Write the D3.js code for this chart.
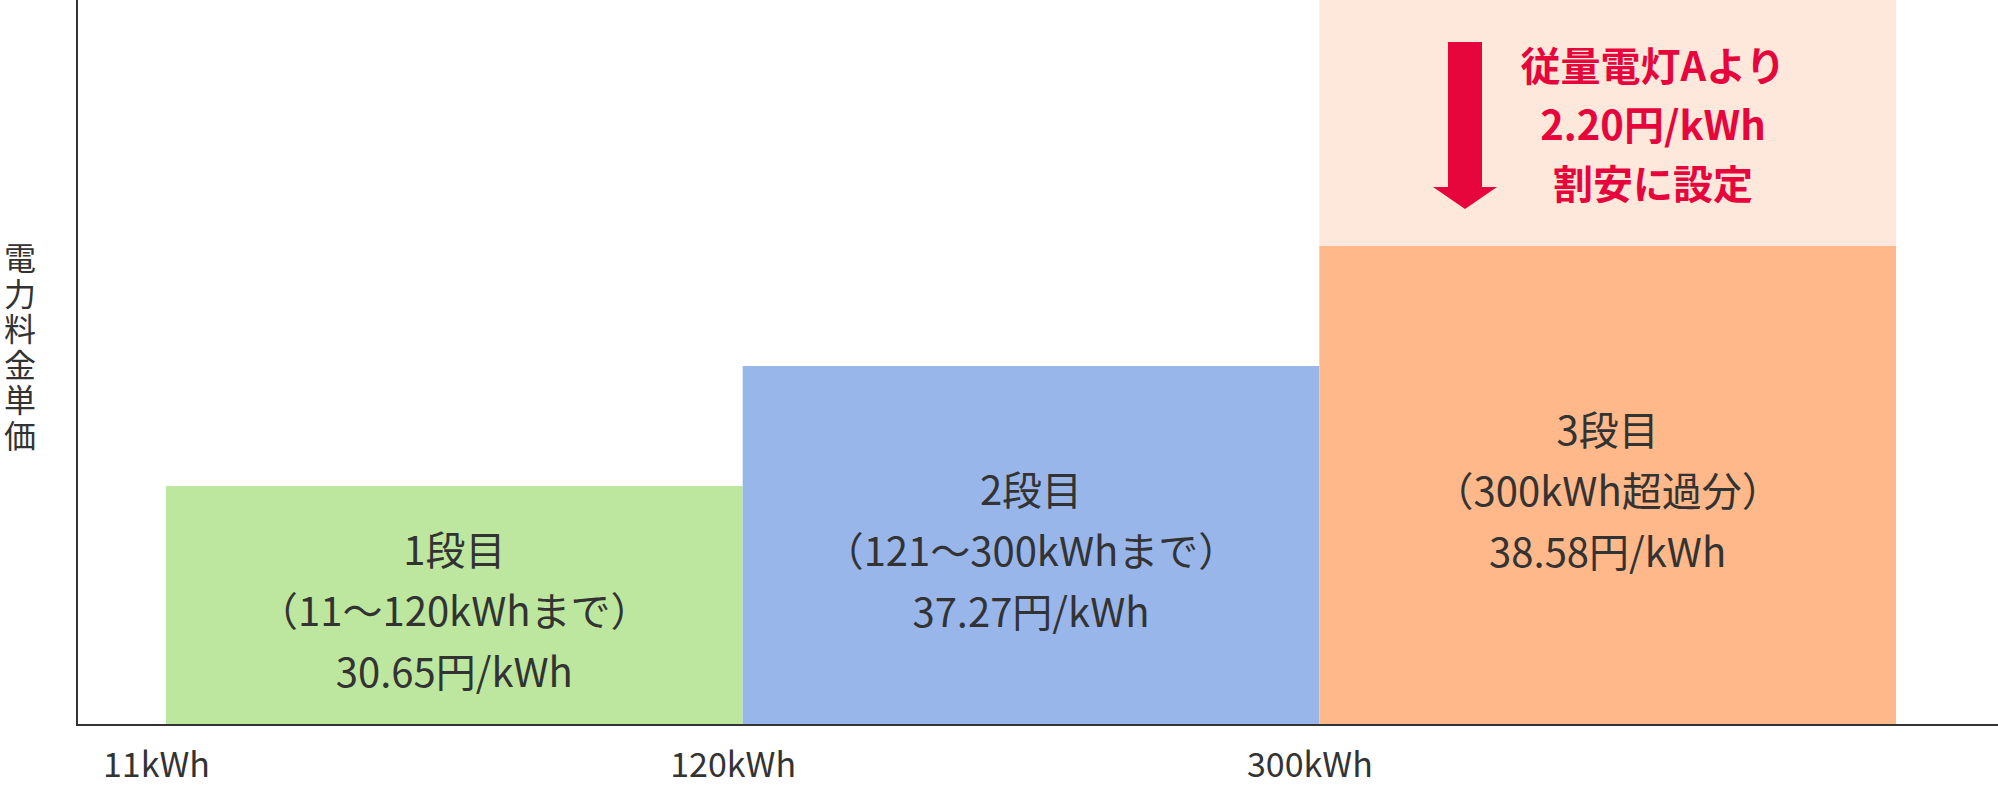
<!DOCTYPE html>
<html><head><meta charset="utf-8">
<script src="https://cdn.jsdelivr.net/npm/d3@7"></script>
<style>
html,body{margin:0;padding:0;background:#fff;}
svg{display:block;font-family:"Noto Sans CJK JP","Noto Sans",sans-serif;}
</style></head>
<body>
<svg id="chart" width="1998" height="786"></svg>
<script>
// ---- data ----
const tiers = ["1段目", "2段目", "3段目"];
const tierRanges = ["（11～120kWhまで）", "（121～300kWhまで）", "（300kWh超過分）"];
const prices = [30.65, 37.27, 38.58];
const stepLevels = [2, 3, 4];            // schematic bar heights (chart has no value axis)
const tickLabels = ["11kWh", "120kWh", "300kWh"];
const tierColors = ["#bde79f", "#99b6eb", "#ffb88a"];
const yAxisTitle = "電力料金単価";
const noteLines = ["従量電灯Aより", "2.20円/kWh", "割安に設定"];

// ---- layout ----
const W = 1998, H = 786;
const axisX = 77, axisY = 725;
const svg = d3.select("#chart");

const x = d3.scaleLinear().domain([0, tiers.length]).range([166, 1896]);
const y = d3.scaleLinear().domain([0, 6.05]).range([726, 0]);

const data = tiers.map((t, i) => ({
  tier: t, range: tierRanges[i], price: prices[i], level: stepLevels[i], color: tierColors[i], i
}));

// annotation background box above last tier
const last = data[data.length - 1];
svg.append("rect")
  .attr("x", x(last.i)).attr("width", x(last.i + 1) - x(last.i))
  .attr("y", y(y.domain()[1])).attr("height", y(last.level) - y(y.domain()[1]))
  .attr("fill", "#fee8dc");

// bars
svg.selectAll("rect.bar").data(data).join("rect")
  .attr("class", "bar")
  .attr("x", d => x(d.i)).attr("width", d => x(d.i + 1) - x(d.i))
  .attr("y", d => y(d.level)).attr("height", d => y(0) - y(d.level))
  .attr("fill", d => d.color);

// bar labels
const lh = 61;
const lab = svg.selectAll("g.lab").data(data).join("g").attr("class", "lab")
  .attr("transform", d => `translate(${(x(d.i) + x(d.i + 1)) / 2},${(y(d.level) + y(0)) / 2 + 3})`);
lab.each(function(d) {
  const g = d3.select(this);
  const lines = [d.tier, d.range, d3.format(".2f")(d.price) + "円/kWh"];
  lines.forEach((s, k) => {
    g.append("text").attr("y", (k - 1) * lh)
      .attr("text-anchor", "middle").attr("dominant-baseline", "central")
      .attr("font-size", 40).attr("fill", "#333").text(s);
  });
});

// axes
const xAxis = d3.axisBottom(x).tickValues([0, 1, 2]).tickSize(0).tickPadding(28)
  .tickFormat((d, i) => tickLabels[i]);
const gx = svg.append("g").attr("transform", `translate(0,${axisY})`).call(xAxis);
gx.select(".domain").remove();
gx.selectAll("text").attr("font-size", 34).attr("fill", "#333")
  .attr("font-family", "'Noto Sans CJK JP', sans-serif").attr("dx", -10);

svg.append("line").attr("x1", axisX).attr("x2", W).attr("y1", axisY).attr("y2", axisY)
  .attr("stroke", "#333").attr("stroke-width", 2);
svg.append("line").attr("x1", axisX).attr("x2", axisX).attr("y1", 0).attr("y2", axisY + 1)
  .attr("stroke", "#333").attr("stroke-width", 2);

// y axis title (vertical)
svg.append("text")
  .attr("x", 20).attr("y", 242)
  .attr("writing-mode", "vertical-rl")
  .style("writing-mode", "vertical-rl")
  .attr("letter-spacing", 3.5)
  .attr("font-size", 32).attr("fill", "#333")
  .text(yAxisTitle);

// annotation: arrow + red text
const boxTop = y(y.domain()[1]), boxBot = y(last.level);
const ax = 1465, aTop = 42, aTip = 209, shaftHalf = 17, headHalf = 32, headLen = 22;
svg.append("path")
  .attr("d", `M${ax - shaftHalf},${aTop}H${ax + shaftHalf}V${aTip - headLen}H${ax + headHalf}L${ax},${aTip}L${ax - headHalf},${aTip - headLen}H${ax - shaftHalf}Z`)
  .attr("fill", "#e6063c");
const noteCy = (boxTop + boxBot) / 2;
noteLines.forEach((s, k) => {
  svg.append("text").attr("x", 1653).attr("y", noteCy + (k - 1) * 59)
    .attr("text-anchor", "middle").attr("dominant-baseline", "central")
    .attr("font-size", 40).attr("font-weight", 700).attr("fill", "#e6063c").text(s);
});
</script>
</body></html>
